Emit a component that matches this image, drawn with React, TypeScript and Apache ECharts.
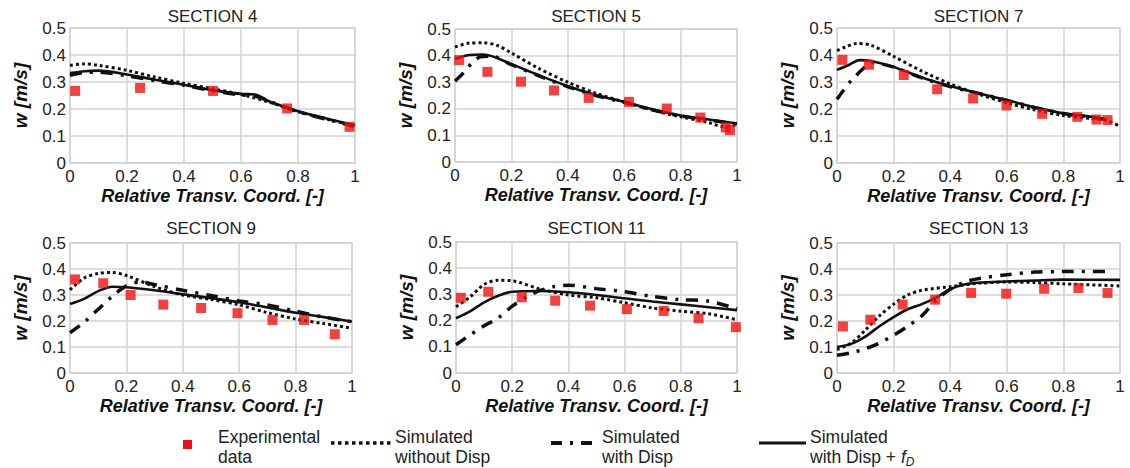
import React, { useEffect, useRef } from "react";
import * as echarts from "echarts";

// ---------- DATA ----------
const sectionTitles = ["SECTION 4", "SECTION 5", "SECTION 7", "SECTION 9", "SECTION 11", "SECTION 13"];
const xTicks = [0, 0.2, 0.4, 0.6, 0.8, 1];
const yTicks = [0, 0.1, 0.2, 0.3, 0.4, 0.5];

// Section 4
const s4Exp = [[0.018, 0.267], [0.246, 0.278], [0.502, 0.267], [0.762, 0.202], [0.981, 0.134]];
const s4NoDisp = [[0, 0.362], [0.05, 0.367], [0.1, 0.362], [0.2, 0.343], [0.3, 0.318], [0.4, 0.295], [0.5, 0.275], [0.6, 0.254], [0.7, 0.225], [0.8, 0.19], [0.9, 0.163], [1, 0.137]];
const s4Disp = [[0, 0.325], [0.05, 0.335], [0.1, 0.336], [0.2, 0.323], [0.3, 0.305], [0.4, 0.288], [0.5, 0.268], [0.6, 0.252], [0.65, 0.248], [0.7, 0.228], [0.8, 0.19], [0.9, 0.162], [1, 0.135]];
const s4DispFd = [[0, 0.333], [0.05, 0.34], [0.1, 0.342], [0.2, 0.328], [0.3, 0.308], [0.4, 0.29], [0.5, 0.27], [0.6, 0.256], [0.65, 0.254], [0.7, 0.228], [0.8, 0.192], [0.9, 0.165], [1, 0.14]];

// Section 5
const s5Exp = [[0.015, 0.383], [0.115, 0.339], [0.234, 0.302], [0.351, 0.269], [0.474, 0.241], [0.617, 0.226], [0.751, 0.201], [0.87, 0.167], [0.96, 0.13], [0.975, 0.12]];
const s5NoDisp = [[0, 0.432], [0.05, 0.447], [0.1, 0.448], [0.15, 0.438], [0.2, 0.41], [0.3, 0.35], [0.4, 0.3], [0.5, 0.258], [0.6, 0.226], [0.7, 0.195], [0.8, 0.17], [0.9, 0.148], [0.95, 0.133], [1, 0.14]];
const s5Disp = [[0, 0.304], [0.03, 0.335], [0.06, 0.372], [0.09, 0.395], [0.13, 0.398], [0.2, 0.366], [0.3, 0.323], [0.4, 0.283], [0.5, 0.25], [0.6, 0.224], [0.7, 0.196], [0.8, 0.173], [0.9, 0.158], [1, 0.143]];
const s5DispFd = [[0, 0.387], [0.05, 0.402], [0.1, 0.404], [0.13, 0.398], [0.2, 0.368], [0.3, 0.325], [0.4, 0.285], [0.5, 0.252], [0.6, 0.226], [0.7, 0.198], [0.8, 0.175], [0.9, 0.16], [1, 0.145]];

// Section 7
const s7Exp = [[0.019, 0.382], [0.113, 0.364], [0.236, 0.326], [0.354, 0.273], [0.481, 0.239], [0.599, 0.213], [0.725, 0.182], [0.849, 0.171], [0.917, 0.161], [0.956, 0.159]];
const s7NoDisp = [[0, 0.416], [0.03, 0.43], [0.07, 0.443], [0.12, 0.436], [0.2, 0.395], [0.3, 0.34], [0.4, 0.293], [0.5, 0.255], [0.6, 0.223], [0.7, 0.196], [0.8, 0.176], [0.9, 0.164], [0.95, 0.159], [0.994, 0.139]];
const s7Disp = [[0, 0.236], [0.02, 0.265], [0.05, 0.305], [0.09, 0.347], [0.12, 0.372], [0.2, 0.355], [0.3, 0.315], [0.4, 0.283], [0.5, 0.258], [0.6, 0.232], [0.7, 0.205], [0.8, 0.183], [0.9, 0.17], [0.953, 0.16]];
const s7DispFd = [[0, 0.345], [0.04, 0.362], [0.08, 0.381], [0.12, 0.378], [0.2, 0.356], [0.3, 0.317], [0.4, 0.285], [0.5, 0.258], [0.6, 0.233], [0.7, 0.206], [0.8, 0.184], [0.9, 0.171], [0.953, 0.161]];

// Section 9
const s9Exp = [[0.018, 0.36], [0.118, 0.345], [0.215, 0.3], [0.331, 0.263], [0.465, 0.25], [0.594, 0.23], [0.718, 0.204], [0.83, 0.204], [0.939, 0.149]];
const s9NoDisp = [[0, 0.32], [0.05, 0.365], [0.1, 0.383], [0.15, 0.387], [0.2, 0.375], [0.3, 0.332], [0.4, 0.3], [0.5, 0.283], [0.6, 0.262], [0.7, 0.232], [0.8, 0.208], [0.9, 0.19], [1, 0.172]];
const s9Disp = [[0, 0.155], [0.05, 0.195], [0.1, 0.245], [0.15, 0.295], [0.2, 0.335], [0.25, 0.35], [0.3, 0.34], [0.4, 0.318], [0.5, 0.298], [0.6, 0.277], [0.7, 0.262], [0.8, 0.238], [0.9, 0.215], [1, 0.197]];
const s9DispFd = [[0, 0.265], [0.05, 0.285], [0.1, 0.315], [0.15, 0.332], [0.2, 0.33], [0.3, 0.318], [0.4, 0.303], [0.5, 0.288], [0.6, 0.272], [0.7, 0.252], [0.8, 0.232], [0.9, 0.215], [1, 0.198]];

// Section 11
const s11Exp = [[0.017, 0.287], [0.115, 0.31], [0.234, 0.289], [0.353, 0.276], [0.477, 0.257], [0.608, 0.244], [0.739, 0.237], [0.863, 0.209], [0.996, 0.175]];
const s11NoDisp = [[0, 0.253], [0.05, 0.29], [0.1, 0.338], [0.15, 0.354], [0.2, 0.352], [0.3, 0.32], [0.4, 0.298], [0.5, 0.287], [0.6, 0.268], [0.7, 0.248], [0.8, 0.236], [0.9, 0.226], [1, 0.203]];
const s11Disp = [[0, 0.108], [0.05, 0.145], [0.1, 0.18], [0.15, 0.21], [0.2, 0.255], [0.25, 0.29], [0.3, 0.315], [0.35, 0.33], [0.4, 0.335], [0.5, 0.322], [0.6, 0.31], [0.7, 0.292], [0.8, 0.28], [0.9, 0.274], [1, 0.245]];
const s11DispFd = [[0, 0.209], [0.05, 0.235], [0.1, 0.27], [0.15, 0.295], [0.2, 0.31], [0.3, 0.313], [0.4, 0.308], [0.5, 0.298], [0.6, 0.285], [0.7, 0.273], [0.8, 0.262], [0.9, 0.251], [1, 0.24]];

// Section 13
const s13Exp = [[0.021, 0.179], [0.118, 0.205], [0.232, 0.263], [0.347, 0.282], [0.474, 0.308], [0.598, 0.305], [0.732, 0.324], [0.853, 0.327], [0.956, 0.308]];
const s13NoDisp = [[0, 0.09], [0.05, 0.115], [0.1, 0.165], [0.15, 0.22], [0.2, 0.265], [0.25, 0.3], [0.3, 0.318], [0.4, 0.332], [0.5, 0.345], [0.6, 0.35], [0.7, 0.348], [0.8, 0.343], [1, 0.335]];
const s13Disp = [[0, 0.068], [0.05, 0.078], [0.1, 0.093], [0.15, 0.115], [0.2, 0.145], [0.25, 0.18], [0.3, 0.22], [0.35, 0.28], [0.4, 0.322], [0.45, 0.35], [0.5, 0.363], [0.6, 0.378], [0.7, 0.388], [0.8, 0.39], [0.96, 0.39]];
const s13DispFd = [[0, 0.1], [0.05, 0.112], [0.1, 0.14], [0.15, 0.18], [0.2, 0.215], [0.25, 0.245], [0.3, 0.265], [0.35, 0.29], [0.4, 0.322], [0.45, 0.34], [0.5, 0.347], [0.6, 0.352], [0.7, 0.356], [0.8, 0.359], [1, 0.358]];

const expData = [s4Exp, s5Exp, s7Exp, s9Exp, s11Exp, s13Exp];
const noDispData = [s4NoDisp, s5NoDisp, s7NoDisp, s9NoDisp, s11NoDisp, s13NoDisp];
const dispData = [s4Disp, s5Disp, s7Disp, s9Disp, s11Disp, s13Disp];
const dispFdData = [s4DispFd, s5DispFd, s7DispFd, s9DispFd, s11DispFd, s13DispFd];

const xAxisName = "Relative Transv. Coord. [-]";
const yAxisName = "w [m/s]";

// ---------- LAYOUT ----------
const grids = [
  { left: 70, top: 28, width: 285, height: 135 },
  { left: 455, top: 29, width: 282, height: 133 },
  { left: 837, top: 28, width: 283, height: 135 },
  { left: 70, top: 243, width: 282, height: 130 },
  { left: 456, top: 242, width: 281, height: 131 },
  { left: 837, top: 243, width: 283, height: 130 },
];
const titleTops = [8, 8, 8, 220, 220, 220];

const FONT = "'Liberation Sans', Arial, sans-serif";
const RED = "#ee1111";
const INK = "#111";

export default function App() {
  const ref = useRef<HTMLDivElement>(null);

  useEffect(() => {
    if (!ref.current) return;
    const chart = echarts.init(ref.current, undefined, { renderer: "svg" });

    const title = grids.map((g, i) => ({
      text: sectionTitles[i],
      left: g.left + g.width / 2,
      top: titleTops[i],
      padding: 0,
      textAlign: "center",
      textStyle: { fontFamily: FONT, fontSize: 17, fontWeight: "normal", color: "#222" },
    }));

    const grid = grids.map((g) => ({
      ...g,
      show: true,
      borderColor: "#d2d2d2",
      borderWidth: 1.5,
      backgroundColor: "transparent",
    }));

    const xAxis = grids.map((_, i) => ({
      gridIndex: i,
      type: "value",
      min: xTicks[0],
      max: xTicks[xTicks.length - 1],
      interval: xTicks[1] - xTicks[0],
      axisLine: { show: false },
      axisTick: { show: false },
      splitLine: { show: true, lineStyle: { color: "#d2d2d2", width: 1.5 } },
      axisLabel: { fontFamily: FONT, fontSize: 17, color: "#222", margin: 5 },
      name: xAxisName,
      nameLocation: "middle",
      nameGap: 24,
      nameTextStyle: { fontFamily: FONT, fontSize: 18, fontWeight: "bold", fontStyle: "italic", color: INK },
    }));

    const yAxis = grids.map((_, i) => ({
      gridIndex: i,
      type: "value",
      min: yTicks[0],
      max: yTicks[yTicks.length - 1],
      interval: yTicks[1] - yTicks[0],
      axisLine: { show: false },
      axisTick: { show: false },
      splitLine: { show: true, lineStyle: { color: "#d2d2d2", width: 1.5 } },
      axisLabel: { fontFamily: FONT, fontSize: 17, color: "#222", margin: 4 },
      name: yAxisName,
      nameLocation: "middle",
      nameGap: 40,
      nameTextStyle: { fontFamily: FONT, fontSize: 19, fontWeight: "bold", fontStyle: "italic", color: INK },
    }));

    const series: any[] = [];
    grids.forEach((_, i) => {
      series.push({
        type: "line", xAxisIndex: i, yAxisIndex: i, data: noDispData[i],
        showSymbol: false, smooth: 0.3, z: 2,
        lineStyle: { color: INK, width: 3, type: [3, 3] },
      });
      series.push({
        type: "line", xAxisIndex: i, yAxisIndex: i, data: dispData[i],
        showSymbol: false, smooth: 0.3, z: 2,
        lineStyle: { color: INK, width: 3.5, type: [12, 8, 3, 8] },
      });
      series.push({
        type: "line", xAxisIndex: i, yAxisIndex: i, data: dispFdData[i],
        showSymbol: false, smooth: 0.3, z: 3,
        lineStyle: { color: INK, width: 2.6, type: "solid" },
      });
      series.push({
        type: "scatter", xAxisIndex: i, yAxisIndex: i, data: expData[i],
        symbol: "rect", symbolSize: 10, z: 4,
        itemStyle: { color: RED },
      });
    });

    const lt = { fontFamily: FONT, fontSize: 17.5, fill: "#222", verticalAlign: "middle" };
    const txt = (x: number, y: number, text: string, extra: any = {}) => ({
      type: "text", x, y, style: { ...lt, text, ...extra },
    });
    const L1 = 437;
    const L2 = 457;
    const LY = 443;
    const graphic = [
      { type: "rect", shape: { x: 183, y: 440, width: 9, height: 9 }, style: { fill: RED } },
      txt(218, L1, "Experimental"),
      txt(218, L2, "data"),

      { type: "line", shape: { x1: 331, y1: LY, x2: 391, y2: LY }, style: { stroke: INK, lineWidth: 3.5, lineDash: [3.5, 3.5] } },
      txt(395, L1, "Simulated"),
      txt(395, L2, "without Disp"),

      { type: "line", shape: { x1: 551, y1: LY, x2: 598, y2: LY }, style: { stroke: INK, lineWidth: 4, lineDash: [11, 8, 3, 8] } },
      txt(602, L1, "Simulated"),
      txt(602, L2, "with Disp"),

      { type: "line", shape: { x1: 759, y1: LY, x2: 806, y2: LY }, style: { stroke: INK, lineWidth: 3 } },
      txt(810, L1, "Simulated"),
      txt(810, L2, "with Disp + {f|f}{d|D}", {
        rich: {
          f: { fontFamily: FONT, fontSize: 17.5, fontStyle: "italic", fill: "#222" },
          d: { fontFamily: FONT, fontSize: 12, fontStyle: "italic", fill: "#222", padding: [10, 0, 0, 0] },
        },
      }),
    ];

    chart.setOption({
      animation: false,
      backgroundColor: "#fff",
      title,
      grid,
      xAxis,
      yAxis,
      series,
      graphic,
    });

    return () => chart.dispose();
  }, []);

  return (
    <div
      ref={ref}
      style={{ position: "absolute", left: 0, top: 0, width: 1130, height: 468 }}
    />
  );
}
